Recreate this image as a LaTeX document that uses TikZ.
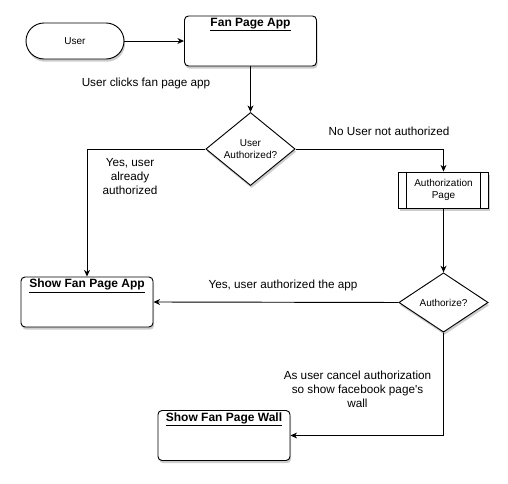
\documentclass[tikz,border=0pt]{standalone}
\usepackage{fontspec}
\setmainfont{Liberation Sans}
\usetikzlibrary{shapes.geometric, shadows, arrows.meta}

\begin{document}
\begin{tikzpicture}[x = 0.75pt, y = -0.75pt, line width = 0.7pt,
  >={Stealth[length = 5pt, width = 4.5pt]},
  shadowed/.style = {drop shadow = {shadow xshift = 0.8pt, shadow yshift = -2pt, opacity = 0.4}},
  terminal/.style = {draw, fill = white, shadowed, rounded corners = 13.5pt, minimum width = 73.5pt, minimum height = 27pt, font = \fontsize{7.5}{9.5}\selectfont},
  screen/.style = {draw, fill = white, shadowed, rounded corners = 3pt, minimum width = 99pt, minimum height = 37.5pt},
  heading/.style = {anchor = north, inner sep = 1.5pt, font = \fontsize{9}{11}\selectfont\bfseries},
  decision/.style = {draw, fill = white, shadowed, diamond, inner sep = 0pt, minimum width = 67pt, align = center, font = \fontsize{7.5}{9.5}\selectfont},
  subpage/.style = {draw, fill = white, shadowed, minimum width = 67.5pt, minimum height = 27pt, align = center, font = \fontsize{7.5}{9.5}\selectfont},
  note/.style = {align = center, font = \fontsize{8.8}{10.5}\selectfont}]
\useasboundingbox (0, 0) rectangle (508, 484);
% boxes
\node[terminal] (user) at (75, 41) {User};
\node[screen, label = {[heading]north:\underline{Fan Page App}}] (app) at (250.5, 41) {};
\node[decision, minimum height = 51pt] (asked) at (250.5, 149) {User\\Authorized?};
\node[subpage] (authpage) at (443.5, 190) {Authorization\\Page};
\draw ([xshift = 6.4pt]authpage.north west) -- ([xshift = 6.4pt]authpage.south west);
\draw ([xshift = -6.4pt]authpage.north east) -- ([xshift = -6.4pt]authpage.south east);
\node[decision, minimum height = 44.5pt] (authorize) at (443.5, 302.5) {Authorize?};
\node[screen, label = {[heading]north:\underline{Show Fan Page App}}] (showapp) at (87, 302) {};
\node[screen, label = {[heading]north:\underline{Show Fan Page Wall}}] (showwall) at (224, 435.5) {};
% texts
\node[note] (clicks) at (146, 83) {User clicks fan page app};
\node[note] (already) at (130, 177) {Yes, user\\already\\authorized};
\node[note] (notauth) at (389, 131) {No User not authorized};
\node[note] (authapp) at (283, 285) {Yes, user authorized the app};
\node[note] (cancel) at (357.5, 389) {As user cancel authorization\\so show facebook page\textquotesingle s\\wall};
% connectors
\draw[->] (user) -- (app);
\draw[->] (app) -- (asked);
\draw[->] (asked.west) -| (showapp.north);
\draw[->] (asked.east) -| (authpage.north);
\draw[->] (authpage) -- (authorize);
\draw[->] (authorize.west) -- (showapp.east);
\draw[->] (authorize.south) |- (showwall.east);
\end{tikzpicture}
\end{document}
